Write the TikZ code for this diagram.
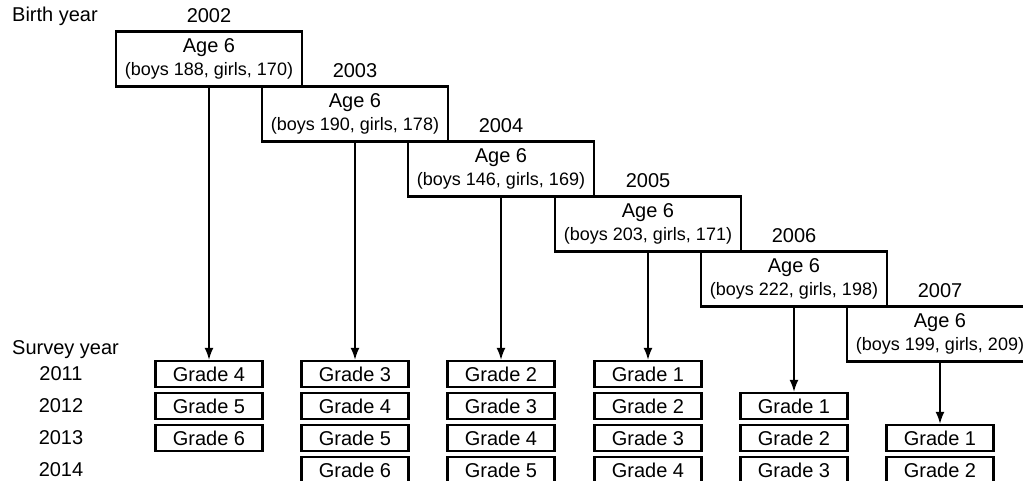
\documentclass[tikz,border=0pt]{standalone}
\usepackage{fontspec}
\setmainfont{Liberation Sans}
\usetikzlibrary{arrows.meta}

\tikzset{
    age node/.style={rectangle,draw,line width=2.2pt,minimum width=186pt,minimum height=55pt,inner sep=0pt,align=center,font=\fontsize{20}{23}\selectfont},
    grade node/.style={rectangle,draw,line width=2.4pt,minimum width=107pt,minimum height=26pt,inner sep=0pt,font=\fontsize{20}{24}\selectfont},
    year label/.style={inner sep=0pt,font=\fontsize{20}{24}\selectfont},
    down arrow/.style={line width=1.5pt,-{Latex[length=12pt,width=9pt]}}
    }
\newcommand{\counts}[1]{{\fontsize{18}{23}\selectfont (#1)}}

\begin{document}
\begin{tikzpicture}[x=1pt,y=-1pt]
    \useasboundingbox (0,0) rectangle (1023,481);
    % row and column headings
    \node(birth)[year label,anchor=west] at (12,16) {Birth year};
    \node(survey)[year label,anchor=west] at (12,350) {Survey year};
    \node(s2011)[year label] at (61,374) {2011};
    \node(s2012)[year label] at (61,406) {2012};
    \node(s2013)[year label] at (61,438) {2013};
    \node(s2014)[year label] at (61,470) {2014};
    % cohorts at age 6
    \node(b2002)[age node] at (209,59) {Age 6\\\counts{boys 188, girls, 170}};
    \node(b2003)[age node] at (355,114) {Age 6\\\counts{boys 190, girls, 178}};
    \node(b2004)[age node] at (501,169) {Age 6\\\counts{boys 146, girls, 169}};
    \node(b2005)[age node] at (648,224) {Age 6\\\counts{boys 203, girls, 171}};
    \node(b2006)[age node] at (794,279) {Age 6\\\counts{boys 222, girls, 198}};
    \node(b2007)[age node] at (940,334) {Age 6\\\counts{boys 199, girls, 209}};
    \node[year label] at ([yshift=15pt]b2002.north) {2002};
    \node[year label] at ([yshift=15pt]b2003.north) {2003};
    \node[year label] at ([yshift=15pt]b2004.north) {2004};
    \node[year label] at ([yshift=15pt]b2005.north) {2005};
    \node[year label] at ([yshift=15pt]b2006.north) {2006};
    \node[year label] at ([yshift=15pt]b2007.north) {2007};
    % grades per survey year
    \node(g2002-2011)[grade node] at (209,374) {Grade 4};
    \node(g2002-2012)[grade node] at (209,406) {Grade 5};
    \node(g2002-2013)[grade node] at (209,438) {Grade 6};
    \node(g2003-2011)[grade node] at (355,374) {Grade 3};
    \node(g2003-2012)[grade node] at (355,406) {Grade 4};
    \node(g2003-2013)[grade node] at (355,438) {Grade 5};
    \node(g2003-2014)[grade node] at (355,470) {Grade 6};
    \node(g2004-2011)[grade node] at (501,374) {Grade 2};
    \node(g2004-2012)[grade node] at (501,406) {Grade 3};
    \node(g2004-2013)[grade node] at (501,438) {Grade 4};
    \node(g2004-2014)[grade node] at (501,470) {Grade 5};
    \node(g2005-2011)[grade node] at (648,374) {Grade 1};
    \node(g2005-2012)[grade node] at (648,406) {Grade 2};
    \node(g2005-2013)[grade node] at (648,438) {Grade 3};
    \node(g2005-2014)[grade node] at (648,470) {Grade 4};
    \node(g2006-2012)[grade node] at (794,406) {Grade 1};
    \node(g2006-2013)[grade node] at (794,438) {Grade 2};
    \node(g2006-2014)[grade node] at (794,470) {Grade 3};
    \node(g2007-2013)[grade node] at (940,438) {Grade 1};
    \node(g2007-2014)[grade node] at (940,470) {Grade 2};
    % arrows
    \draw[down arrow] (b2002.south -| g2002-2011.north) -- (g2002-2011.north);
    \draw[down arrow] (b2003.south -| g2003-2011.north) -- (g2003-2011.north);
    \draw[down arrow] (b2004.south -| g2004-2011.north) -- (g2004-2011.north);
    \draw[down arrow] (b2005.south -| g2005-2011.north) -- (g2005-2011.north);
    \draw[down arrow] (b2006.south -| g2006-2012.north) -- (g2006-2012.north);
    \draw[down arrow] (b2007.south -| g2007-2013.north) -- (g2007-2013.north);
\end{tikzpicture}
\end{document}
